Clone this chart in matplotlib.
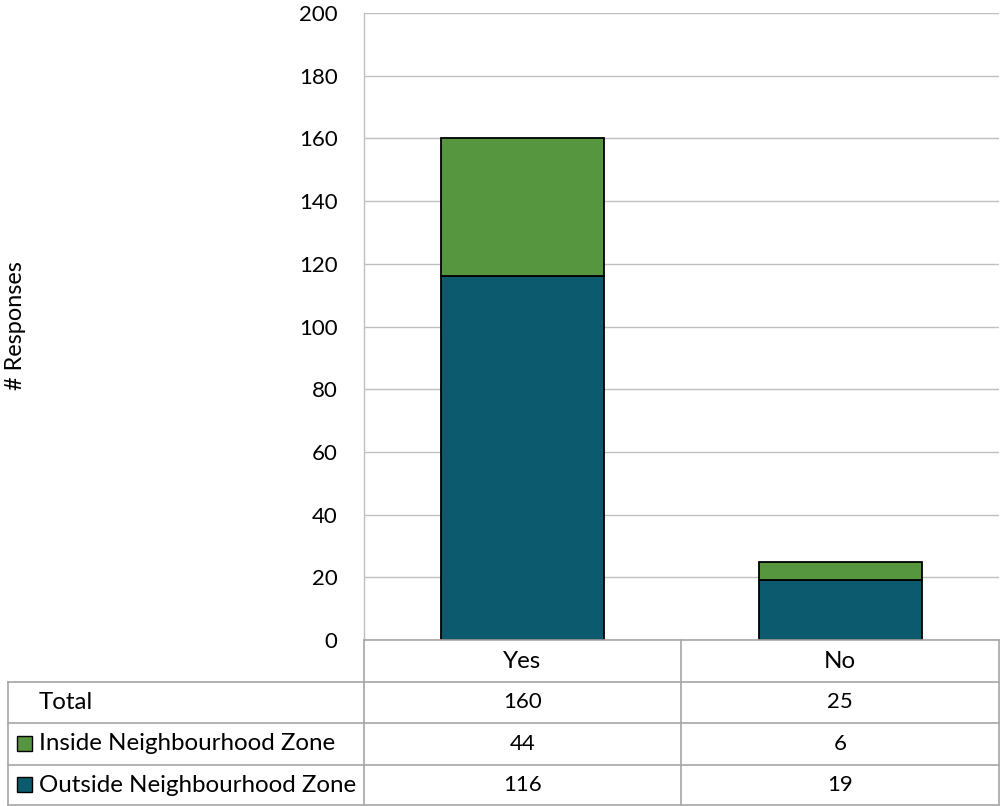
import matplotlib
matplotlib.use("Agg")
import matplotlib.pyplot as plt
from matplotlib.lines import Line2D
from matplotlib.patches import Rectangle

categories = ["Yes", "No"]
outside = [116, 19]
inside = [44, 6]
totals = [a + b for a, b in zip(outside, inside)]
series_names = ["Inside Neighbourhood Zone", "Outside Neighbourhood Zone"]
y_ticks = [0, 20, 40, 60, 80, 100, 120, 140, 160, 180, 200]
ylabel = "# Responses"

c_out = "#0B5A6E"
c_in = "#56963F"
grid_c = "#BFBFBF"
tbl_c = "#A6A6A6"
FONT = "Lato"
FS_NUM = 16
FS_TXT = 17.4

plt.rcParams["font.family"] = [FONT, "DejaVu Sans"]

W, H = 1000, 806
fig = plt.figure(figsize=(W / 100, H / 100), dpi=100)

def fx(px):
    return px / W

def fy(py):
    return 1 - py / H

ax_l, ax_r, ax_t, ax_b = 364, 999, 13, 640
ax = fig.add_axes([fx(ax_l), fy(ax_b), fx(ax_r - ax_l), fy(ax_t) - fy(ax_b)])
x = list(range(len(categories)))
bw = 0.514
ax.bar(x, outside, width=bw, color=c_out, edgecolor="black", linewidth=1.3, zorder=3)
ax.bar(x, inside, bottom=outside, width=bw, color=c_in, edgecolor="black", linewidth=1.3, zorder=3)
ax.set_xlim(-0.5, len(categories) - 0.5)
ax.set_ylim(0, 200)
ax.set_yticks(y_ticks)
ax.set_yticklabels([str(t) for t in y_ticks], fontsize=FS_NUM)
ax.tick_params(axis="y", length=0, pad=19)
ax.set_xticks([])
ax.grid(axis="y", color=grid_c, linewidth=1.0, zorder=0)
for s in ["top", "right", "bottom"]:
    ax.spines[s].set_visible(False)
ax.spines["left"].set_color(grid_c)
ax.spines["left"].set_linewidth(1.0)
fig.text(fx(16), fy(326), ylabel, rotation=90, ha="center", va="center", fontsize=FS_TXT - 0.5)

# Data table
rows_y = [640, 682, 723, 765, 805]
col_x = [8, 364, 681, 999]

def hline(py, x0, x1):
    fig.add_artist(Line2D([fx(x0), fx(x1)], [fy(py), fy(py)], color=tbl_c, linewidth=1.2))

def vline(px, y0, y1):
    fig.add_artist(Line2D([fx(px), fx(px)], [fy(y0), fy(y1)], color=tbl_c, linewidth=1.2))

hline(rows_y[0], col_x[1], col_x[3])
for py in rows_y[1:]:
    hline(py, col_x[0], col_x[3])
vline(col_x[0], rows_y[1], rows_y[-1])
vline(col_x[1], rows_y[0], rows_y[-1])
vline(col_x[2], rows_y[0], rows_y[-1])
vline(col_x[3], rows_y[0], rows_y[-1])

def row_center(i):
    return (rows_y[i] + rows_y[i + 1]) / 2

for j, cat in enumerate(categories):
    cx = (col_x[j + 1] + col_x[j + 2]) / 2
    fig.text(fx(cx), fy(row_center(0)), cat, ha="center", va="center", fontsize=FS_TXT)
    fig.text(fx(cx), fy(row_center(1)), str(totals[j]), ha="center", va="center", fontsize=FS_NUM)
    fig.text(fx(cx), fy(row_center(2)), str(inside[j]), ha="center", va="center", fontsize=FS_NUM)
    fig.text(fx(cx), fy(row_center(3)), str(outside[j]), ha="center", va="center", fontsize=FS_NUM)

fig.text(fx(39), fy(row_center(1)), "Total", ha="left", va="center", fontsize=FS_TXT)
for i, (name, col) in enumerate(zip(series_names, [c_in, c_out])):
    cy = row_center(2 + i)
    fig.add_artist(Rectangle((fx(17), fy(cy + 7)), fx(15), fy(0) - fy(15),
                             facecolor=col, edgecolor="black", linewidth=1.0))
    fig.text(fx(39), fy(cy), name, ha="left", va="center", fontsize=FS_TXT)

fig.savefig("out.png", dpi=100)
